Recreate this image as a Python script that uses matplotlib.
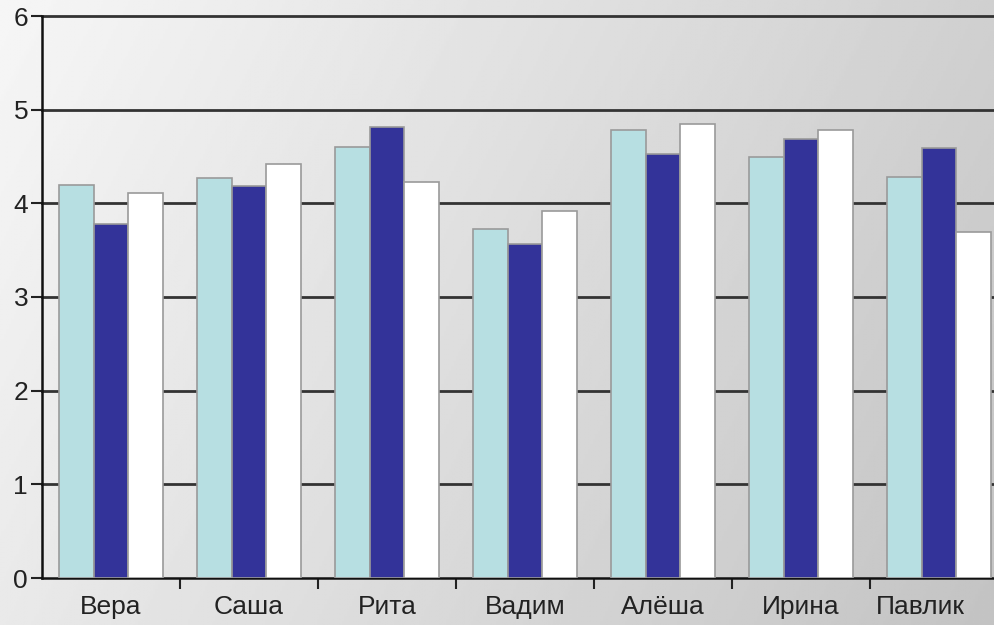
import matplotlib.pyplot as plt
import matplotlib.transforms as mtransforms
import numpy as np

plt.rcParams['font.family'] = ['Liberation Sans', 'DejaVu Sans']

names = ['Вера', 'Саша', 'Рита', 'Вадим', 'Алёша', 'Ирина', 'Павлик']
series_a = [4.20, 4.27, 4.60, 3.73, 4.78, 4.49, 4.28]
series_b = [3.78, 4.19, 4.82, 3.57, 4.53, 4.69, 4.59]
series_c = [4.11, 4.42, 4.23, 3.92, 4.85, 4.78, 3.69]

colors = ['#b7dfe2', '#333399', '#ffffff']

fig = plt.figure(figsize=(9.94, 6.25), dpi=100)

# gradient background (light top-left, grey to the right / bottom)
bg = fig.add_axes([0, 0, 1, 1], zorder=0)
gx, gy = np.meshgrid(np.linspace(0, 1, 400), np.linspace(0, 1, 250))
shade = 0.965 - 0.15 * gx - 0.05 * gy
bg.imshow(shade, cmap='gray', vmin=0, vmax=1, aspect='auto',
          extent=[0, 1, 0, 1], origin='upper')
bg.axis('off')

ax = fig.add_axes([42 / 994, 47 / 625, 966 / 994, 562 / 625], zorder=1)
ax.patch.set_visible(False)

x = np.arange(len(names))
w = 0.25
for i, vals in enumerate([series_a, series_b, series_c]):
    ax.bar(x + (i - 1) * w, vals, width=w, color=colors[i],
           edgecolor='#9a9a9a', linewidth=1.2, zorder=3)

ax.set_xlim(-0.5, len(names) - 0.5)
ax.set_ylim(0, 6)
ax.set_yticks(range(7))
for yv in range(1, 7):
    ax.axhline(yv, color='#333333', linewidth=2, zorder=1, clip_on=False)

ax.set_xticks(x)
ax.set_xticklabels(names, fontsize=19, color='#222222')
ax.set_xticks(np.arange(0.5, len(names) - 0.5, 1), minor=True)
ax.tick_params(axis='x', which='major', length=0, pad=12)
ax.tick_params(axis='x', which='minor', length=8, width=1.5, color='#222222')
ax.tick_params(axis='y', length=8, width=1.5, color='#222222',
               labelsize=19, labelcolor='#222222', pad=2)

# last label is pushed left so it stays inside the picture
last = ax.get_xticklabels()[-1]
last.set_transform(last.get_transform() +
                   mtransforms.ScaledTranslation(-0.19, 0, fig.dpi_scale_trans))

for s in ['top', 'right']:
    ax.spines[s].set_visible(False)
for s in ['left', 'bottom']:
    ax.spines[s].set_linewidth(1.8)
    ax.spines[s].set_color('#111111')

fig.savefig('out.png', dpi=100)
